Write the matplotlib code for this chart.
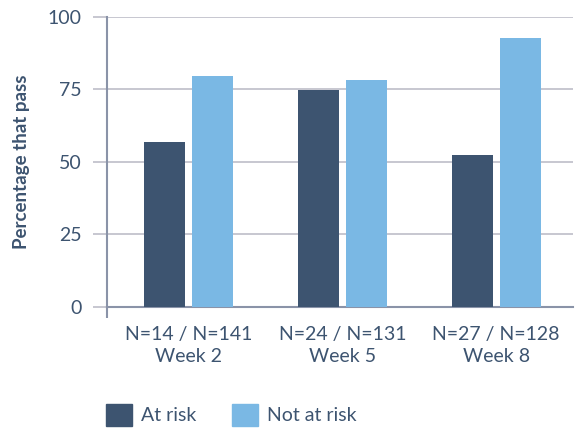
import numpy as np
import matplotlib.pyplot as plt
from matplotlib.patches import Patch

plt.rcParams['font.family'] = ['Lato', 'DejaVu Sans']

weeks = ['Week 2', 'Week 5', 'Week 8']
n_labels = ['N=14 / N=141', 'N=24 / N=131', 'N=27 / N=128']
at_risk = [56.9, 74.8, 52.4]
not_at_risk = [79.7, 78.3, 92.8]

dark = '#3d5470'
light = '#7ab8e4'
text_col = '#3d5470'

fig = plt.figure(figsize=(5.75, 4.29), dpi=100)
ax = fig.add_axes([0.186, 0.2844, 0.8105, 0.676])

x = np.arange(len(weeks))
w = 0.266
ax.bar(x - 0.156, at_risk, w, color=dark, zorder=3)
ax.bar(x + 0.156, not_at_risk, w, color=light, zorder=3)

ax.set_xlim(-0.53, 2.5)
ax.set_ylim(0, 100)
ax.set_yticks([0, 25, 50, 75, 100])
ax.yaxis.grid(True, color='#bdbdc8', lw=1.2, zorder=0)
ax.tick_params(axis='y', length=10, width=1.2, color='#bdbdc8', pad=8,
               labelsize=14, labelcolor=text_col)

ax.set_xticks(x)
ax.set_xticklabels([f'{n}\n{w_}' for n, w_ in zip(n_labels, weeks)],
                   fontsize=14, color=text_col, linespacing=1.3)
ax.tick_params(axis='x', length=0, pad=14)
ax.set_xticks([-0.53], minor=True)
ax.tick_params(axis='x', which='minor', length=8, width=1.5, color='#8a93a8')

for s in ['top', 'right']:
    ax.spines[s].set_visible(False)
ax.spines['left'].set_color('#8a93a8')
ax.spines['left'].set_linewidth(1.5)
ax.spines['bottom'].set_color('#8a93a8')
ax.spines['bottom'].set_linewidth(1.5)

ax.set_ylabel('Percentage that pass', fontsize=13.5, fontweight='bold',
              color=text_col, labelpad=13)

handles = [Patch(color=dark, label='At risk'), Patch(color=light, label='Not at risk')]
leg = fig.legend(handles=handles, loc='center left', bbox_to_anchor=(0.184, 0.033),
                 ncol=2, frameon=False, fontsize=14, handlelength=1.34,
                 handleheight=1.34, handletextpad=0.46, columnspacing=1.85,
                 borderpad=0, borderaxespad=0)
for t in leg.get_texts():
    t.set_color(text_col)

fig.savefig('out.png', dpi=100)
